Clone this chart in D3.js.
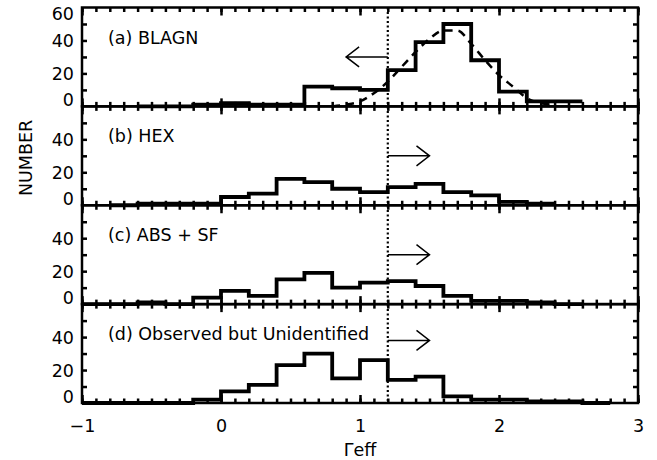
<!DOCTYPE html>
<html>
<head>
<meta charset="utf-8">
<script src="https://cdn.jsdelivr.net/npm/d3@7"></script>
<style>
body { margin: 0; background: #fff; }
text { font-family: "DejaVu Sans", "Liberation Sans", Arial, sans-serif; fill: #000; }
</style>
</head>
<body>
<div id="chart"></div>
<script>
// Data (bin left edges, bin width 0.2; null = not drawn)
var binLeft = [-1.0, -0.8, -0.6, -0.4, -0.2, 0.0, 0.2, 0.4, 0.6, 0.8, 1.0, 1.2, 1.4, 1.6, 1.8, 2.0, 2.2, 2.4, 2.6];
var binWidth = 0.2;

var countsBLAGN = [null, null, 0, 0, 1, 2, 1, 1, 12, 11, 10, 22, 39, 50, 28, 9, 3, 3, null];
var countsHEX   = [null, 0, 1, 1, 1, 5, 7, 16, 14, 10, 8, 11, 13, 8, 6, 2, 1, null, null];
var countsABS   = [0, 0, 1, 0, 4, 8, 5, 15, 19, 10, 13, 14, 11, 5, 2, 2, 1, 0, null];
var countsUnid  = [0, 0, 0, 0, 2, 7, 11, 23, 30, 15, 26, 14, 16, 4, 2, 2, 1, 1, 0];

var panelNames = ["(a) BLAGN", "(b) HEX", "(c) ABS + SF", "(d) Observed but Unidentified"];

// dashed fit in panel (a)
var fitX = [0.8, 0.9, 1.0, 1.1, 1.2, 1.3, 1.4, 1.5, 1.6, 1.7, 1.8, 1.9, 2.0, 2.1, 2.2, 2.3, 2.4];
var fitY = [0, 1, 3, 8, 15, 24, 33, 41, 46, 46, 38, 28, 19, 12, 5, 2, 1];

var cutGamma = 1.2;
var arrowTo = [0.9, 1.5, 1.5, 1.5];
var arrowLevel = [30, 30, 30, 38];

var xTicks = [-1, 0, 1, 2, 3];
var yLabelTicks = [[0, 20, 40, 60], [0, 20, 40], [0, 20, 40], [0, 20, 40]];

var allCounts = [countsBLAGN, countsHEX, countsABS, countsUnid];

// Canvas
var W = 657, H = 460;
var plotLeft = 82, plotRight = 638, plotTop = 7.5, plotBottom = 403;
var panelH = (plotBottom - plotTop) / 4;
var fontSize = "17.5px";

var svg = d3.select("#chart").append("svg")
    .attr("width", W)
    .attr("height", H);

var x = d3.scaleLinear().domain([-1, 3]).range([plotLeft, plotRight]);

var histLine = d3.line()
    .defined(function(d) { return d[1] != null; })
    .x(function(d) { return x(d[0]); });

allCounts.forEach(function(counts, i) {
    var pTop = plotTop + i * panelH;
    var y = d3.scaleLinear().domain([0, 60]).range([pTop + panelH, pTop]);
    var g = svg.append("g");

    // frame
    g.append("rect")
        .attr("x", plotLeft).attr("y", pTop)
        .attr("width", plotRight - plotLeft).attr("height", panelH)
        .attr("fill", "none").attr("stroke", "#000").attr("stroke-width", 2.5);

    // x ticks, inward on top and bottom
    var minor = d3.range(-10, 31).map(function(v) { return v / 10; });
    [[d3.axisBottom, pTop], [d3.axisTop, pTop + panelH]].forEach(function(a) {
        g.append("g").attr("transform", "translate(0," + a[1] + ")")
            .call(a[0](x).tickValues(minor).tickSize(4.5).tickFormat(""))
            .call(function(s) { s.select(".domain").remove(); s.selectAll("line").attr("stroke-width", 2.5); });
        g.append("g").attr("transform", "translate(0," + a[1] + ")")
            .call(a[0](x).tickValues(xTicks).tickSize(8).tickFormat(""))
            .call(function(s) { s.select(".domain").remove(); s.selectAll("line").attr("stroke-width", 2.5); });
    });

    // y ticks, inward on left and right
    var yMinor = d3.range(10, 60, 10);
    [[d3.axisRight, plotLeft], [d3.axisLeft, plotRight]].forEach(function(a) {
        g.append("g").attr("transform", "translate(" + a[1] + ",0)")
            .call(a[0](y).tickValues(yMinor).tickSize(5).tickFormat(""))
            .call(function(s) { s.select(".domain").remove(); s.selectAll("line").attr("stroke-width", 2.5); });
    });

    // y labels (IDL nudges the edge ones inward)
    yLabelTicks[i].forEach(function(v) {
        var yy = y(v) + 7;
        if (v === 0) yy = y(0) - 0.5;
        if (v === 60) yy = y(60) + 12.5;
        g.append("text")
            .attr("x", plotLeft - 8).attr("y", yy)
            .attr("text-anchor", "end")
            .style("font-size", fontSize)
            .text(v);
    });

    // histogram outline
    var pts = [];
    counts.forEach(function(c, k) {
        pts.push([binLeft[k], c]);
        pts.push([binLeft[k] + binWidth, c]);
    });
    g.append("path")
        .attr("d", histLine.y(function(d) { return y(d[1]); })(pts))
        .attr("fill", "none").attr("stroke", "#000")
        .attr("stroke-width", 3.8).attr("stroke-linejoin", "miter");

    // panel name
    g.append("text")
        .attr("x", plotLeft + 26).attr("y", pTop + 36)
        .style("font-size", fontSize)
        .text(panelNames[i]);

    // arrow from the cut
    var x0 = x(cutGamma), x1 = x(arrowTo[i]), ya = y(arrowLevel[i]);
    var dir = x1 > x0 ? 1 : -1;
    g.append("path")
        .attr("d", "M " + x0 + " " + ya + " L " + x1 + " " + ya
            + " M " + (x1 - dir * 13) + " " + (ya - 10) + " L " + x1 + " " + ya
            + " L " + (x1 - dir * 13) + " " + (ya + 10))
        .attr("fill", "none").attr("stroke", "#000").attr("stroke-width", 1.5);

    if (i === 0) {
        var fitPts = fitX.map(function(v, k) { return [v, fitY[k]]; });
        g.append("path")
            .attr("d", d3.line()
                .x(function(d) { return x(d[0]); })
                .y(function(d) { return y(d[1]); })
                .curve(d3.curveMonotoneX)(fitPts))
            .attr("fill", "none").attr("stroke", "#000")
            .attr("stroke-width", 2.5).attr("stroke-dasharray", "8,6");
    }
});

// dotted cut line
svg.append("line")
    .attr("x1", x(cutGamma)).attr("x2", x(cutGamma))
    .attr("y1", plotTop).attr("y2", plotBottom)
    .attr("stroke", "#000").attr("stroke-width", 2.2)
    .attr("stroke-dasharray", "2,2.5");

// x labels
svg.append("g").attr("transform", "translate(0," + plotBottom + ")")
    .call(d3.axisBottom(x).tickValues(xTicks).tickSize(0).tickPadding(17).tickFormat(d3.format("d")))
    .call(function(s) {
        s.select(".domain").remove();
        s.selectAll("text").style("font-size", fontSize).attr("font-family", null);
    });

svg.append("text")
    .attr("x", (plotLeft + plotRight) / 2).attr("y", 456)
    .attr("text-anchor", "middle")
    .style("font-size", fontSize)
    .text("Γeff");

svg.append("text")
    .attr("transform", "translate(32,158) rotate(-90)")
    .attr("text-anchor", "middle")
    .style("font-size", fontSize)
    .text("NUMBER");
</script>
</body>
</html>
